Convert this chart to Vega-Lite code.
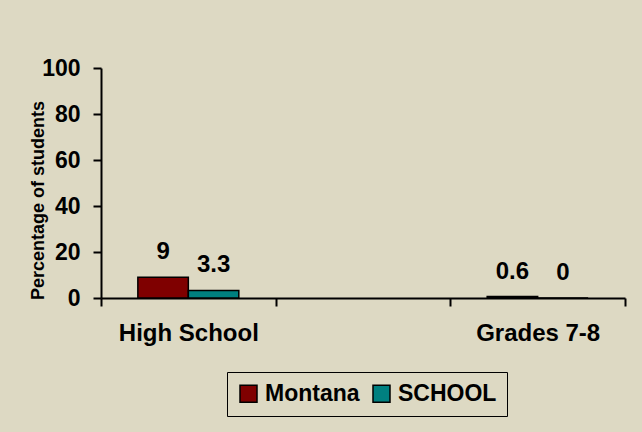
{
  "$schema": "https://vega.github.io/schema/vega-lite/v6.json",
  "width": 524,
  "height": 230,
  "autosize": {"type": "none"},
  "padding": {"left": 101, "top": 68, "right": 17, "bottom": 134},
  "background": "#DDD9C3",
  "config": {
    "view": {"stroke": null},
    "font": "Liberation Sans",
    "axis": {"labelColor": "black", "titleColor": "black", "domainColor": "black", "tickColor": "black", "labelFontWeight": "bold", "titleFontWeight": "bold", "domainWidth": 2, "tickWidth": 2, "grid": false}
  },
  "data": {
    "values": [
      {"cat": "High School", "series": "Montana", "value": 9},
      {"cat": "High School", "series": "SCHOOL", "value": 3.3},
      {"cat": "Grades 7-8", "series": "Montana", "value": 0.6},
      {"cat": "Grades 7-8", "series": "SCHOOL", "value": 0}
    ]
  },
  "encoding": {
    "x": {
      "field": "cat",
      "type": "nominal",
      "scale": {"domain": ["High School", "mid", "Grades 7-8"], "paddingInner": 0, "paddingOuter": 0},
      "axis": {
        "title": null,
        "labelAngle": 0,
        "labelFontSize": 24,
        "labelPadding": 15,
        "tickSize": 8,
        "tickBand": "extent",
        "labelExpr": "datum.value == 'mid' ? '' : datum.value"
      }
    },
    "xOffset": {
      "field": "series",
      "type": "nominal",
      "scale": {"domain": ["Montana", "SCHOOL"], "paddingInner": 0, "paddingOuter": 0.73}
    },
    "y": {
      "field": "value",
      "type": "quantitative",
      "scale": {"domain": [0, 100], "nice": false},
      "axis": {
        "title": "Percentage of students",
        "titleFontSize": 18,
        "titlePadding": -6,
        "titleY": 132,
        "labelFontSize": 23,
        "labelPadding": 13,
        "tickSize": 8,
        "values": [0, 20, 40, 60, 80, 100]
      }
    }
  },
  "layer": [
    {
      "mark": {"type": "bar", "stroke": "black", "strokeWidth": 1.5},
      "encoding": {
        "color": {
          "field": "series",
          "type": "nominal",
          "scale": {"domain": ["Montana", "SCHOOL"], "range": ["#7F0000", "#008080"]},
          "legend": {
            "title": null,
            "orient": "none",
            "direction": "horizontal",
            "legendX": 126,
            "legendY": 304,
            "padding": 10,
            "strokeColor": "black",
            "symbolType": "square",
            "symbolSize": 289,
            "symbolStrokeColor": "black",
            "symbolStrokeWidth": 1.5,
            "symbolOpacity": 1,
            "labelFontSize": 23,
            "labelFontWeight": "bold",
            "labelColor": "black",
            "labelOffset": 5,
            "columnPadding": 10
          }
        }
      }
    },
    {
      "mark": {"type": "text", "fontSize": 24, "fontWeight": "bold", "color": "black", "baseline": "alphabetic", "dy": -18},
      "encoding": {
        "text": {"field": "value", "type": "nominal"}
      }
    }
  ]
}
